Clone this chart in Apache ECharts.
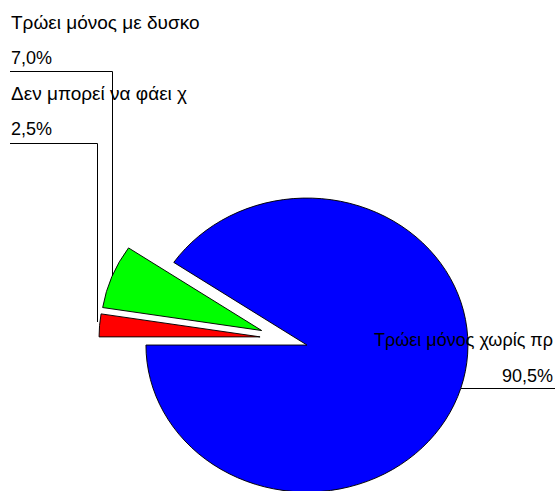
<!DOCTYPE html>
<html>
<head>
<meta charset="utf-8">
<script src="https://cdn.jsdelivr.net/npm/echarts@6/dist/echarts.min.js"></script>
<style>
  html, body { margin: 0; padding: 0; background: #fff; width: 555px; height: 491px; overflow: hidden; }
  #wrap { position: relative; width: 555px; height: 491px; overflow: hidden; }
  /* the pie is drawn round and flattened vertically into an ellipse */
  #pie { position: absolute; left: 0; top: 0; width: 555px; height: 540px;
         transform: scaleY(0.913); transform-origin: 284px 338.6px; }
  #labels { position: absolute; left: 0; top: 0; width: 555px; height: 491px; }
</style>
</head>
<body>
<div id="wrap"><div id="pie"></div><div id="labels"></div></div>
<script>
// Slice names (as shown, truncated) and their shares in percent
const categories = ['Τρώει μόνος χωρίς πρ', 'Τρώει μόνος με δυσκο', 'Δεν μπορεί να φάει χ'];
const shares = [90.5, 7.0, 2.5];

const sliceColors = ['#0000ff', '#00ff00', '#ff0000'];
const center = [284, 338.6];
const radius = 161;

const fmtPct = v => v.toFixed(1).replace('.', ',') + '%';

const pieData = categories.map((name, i) => ({
  name: name,
  value: shares[i],
  selected: true,
  itemStyle: { color: sliceColors[i] }
}));

// Filled, exploded slices
const pieChart = echarts.init(document.getElementById('pie'), null, { renderer: 'svg' });
pieChart.setOption({
  animation: false,
  series: [{
    type: 'pie',
    silent: true,
    center: center,
    radius: radius,
    startAngle: 180,
    clockwise: false,
    selectedMode: 'multiple',
    selectedOffset: 24,
    label: { show: false },
    labelLine: { show: false },
    itemStyle: { borderColor: '#000', borderWidth: 1 },
    select: { itemStyle: { borderColor: '#000', borderWidth: 1 } },
    emphasis: { disabled: true },
    data: pieData
  }]
});

// Data labels with elbow leader lines, kept at true text proportions
const labelSpots = [
  { x: 553, y: 322, align: 'right', nameSize: 18, line: [[461, 388.5], [555, 388.5]] },
  { x: 11, y: 4, align: 'left', nameSize: 19, line: [[112.5, 276], [112.5, 71.5], [10, 71.5]] },
  { x: 11, y: 75, align: 'left', nameSize: 19, line: [[97.5, 322], [97.5, 143.5], [10, 143.5]] }
];

const labelFont = '"Liberation Sans", Arial, sans-serif';

const labelChart = echarts.init(document.getElementById('labels'), null, { renderer: 'svg' });
labelChart.setOption({
  animation: false,
  series: [{
    type: 'pie',
    silent: true,
    center: center,
    radius: radius,
    startAngle: 180,
    clockwise: false,
    avoidLabelOverlap: false,
    itemStyle: { color: 'rgba(0,0,0,0)', borderWidth: 0 },
    emphasis: { disabled: true },
    label: {
      show: true,
      position: 'outside',
      formatter: p => '{n|' + p.name + '}\n{v|' + fmtPct(p.value) + '}',
      fontFamily: labelFont,
      fontSize: 18,
      lineHeight: 36,
      color: '#000',
      rich: {
        n: { fontFamily: labelFont, fontSize: 19, lineHeight: 36, color: '#000' },
        v: { fontFamily: labelFont, fontSize: 18, lineHeight: 36, color: '#000' }
      }
    },
    labelLine: { show: true, lineStyle: { color: '#000', width: 1 } },
    labelLayout: p => {
      const s = labelSpots[p.dataIndex];
      return {
        x: s.x, y: s.y, align: s.align, verticalAlign: 'top',
        hideOverlap: false, moveOverlap: null,
        labelLinePoints: s.line
      };
    },
    data: categories.map((name, i) => ({
      name: name,
      value: shares[i],
      label: {
        rich: {
          n: { fontFamily: labelFont, fontSize: labelSpots[i].nameSize, lineHeight: 36, color: '#000' },
          v: { fontFamily: labelFont, fontSize: 18, lineHeight: 36, color: '#000' }
        }
      }
    }))
  }]
});
</script>
</body>
</html>
